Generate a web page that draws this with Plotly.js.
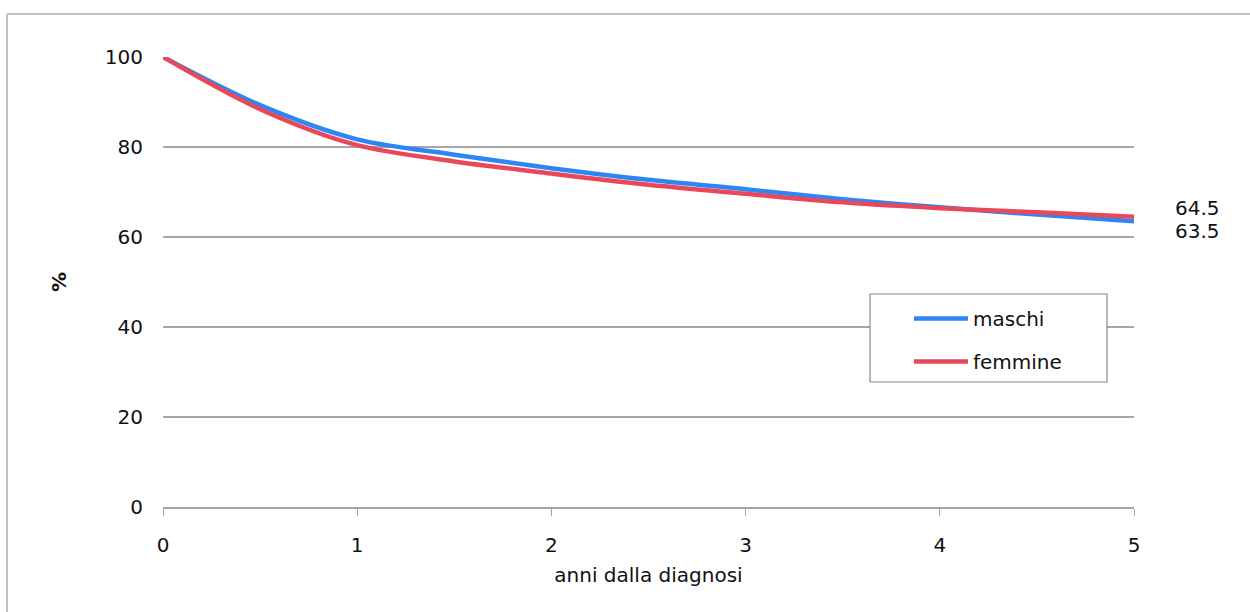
<!DOCTYPE html>
<html>
<head>
<meta charset="utf-8">
<script src="https://cdn.plot.ly/plotly-3.0.1.min.js"></script>
<style>html,body{margin:0;padding:0;background:#fff;}#chart{width:1250px;height:612px;}</style>
</head>
<body>
<div id="chart"></div>
<script>
var anni = [0, 0.5, 1, 1.5, 2, 2.5, 3, 3.5, 4, 4.5, 5];
var maschi = [100, 89.3, 81.7, 78.3, 75.3, 72.7, 70.6, 68.4, 66.6, 65.0, 63.5];
var femmine = [100, 88.4, 80.4, 76.8, 74.1, 71.6, 69.6, 67.7, 66.4, 65.5, 64.5];
var serieNomi = ['maschi', 'femmine'];
var xTitolo = 'anni dalla diagnosi';
var yTitolo = '%';

var W = 1250, H = 612, L = 163, R = 116, T = 57, B = 105;
var pw = W - L - R, ph = H - T - B;
function px(xp){ return (xp - L) / pw; }
function py(yp){ return (H - B - yp) / ph; }

var font = "'DejaVu Sans', Verdana, sans-serif";

var traces = [
  {x: anni, y: maschi, name: serieNomi[0], legendgroup: 'm', mode: 'lines', line: {color: '#2e86f5', width: 4.5, shape: 'spline', smoothing: 0.9}},
  {x: anni, y: femmine, name: serieNomi[1], legendgroup: 'f', mode: 'lines', line: {color: '#e8485a', width: 4.5, shape: 'spline', smoothing: 0.9}}
];

var lastM = maschi[maschi.length - 1], lastF = femmine[femmine.length - 1];

var layout = {
  width: W, height: H,
  margin: {l: L, r: R, t: T, b: B},
  paper_bgcolor: '#fff', plot_bgcolor: '#fff',
  font: {family: font, size: 20, color: '#111'},
  showlegend: true,
  legend: {
    x: px(909), y: py(299), xanchor: 'left', yanchor: 'top',
    bgcolor: 'rgba(0,0,0,0)', borderwidth: 0,
    font: {family: font, size: 20, color: '#111'},
    itemwidth: 54, tracegroupgap: 14
  },
  xaxis: {
    range: [0, 5], tickvals: [0,1,2,3,4,5], ticktext: ['0','1','2','3','4','5'],
    showgrid: false, zeroline: false,
    showline: true, linecolor: '#a6a6a6', linewidth: 1.5,
    ticks: 'outside', ticklen: 7, tickcolor: '#a6a6a6', tickwidth: 1,
    ticklabelstandoff: 12,
    tickfont: {family: font, size: 20, color: '#111'},
    title: {text: xTitolo, font: {family: font, size: 20, color: '#111'}, standoff: 12},
    fixedrange: true
  },
  yaxis: {
    range: [0, 100], tickvals: [0,20,40,60,80,100],
    showgrid: true, gridcolor: '#a6a6a6', gridwidth: 1.2,
    zeroline: false, showline: false,
    ticks: '', ticklabelstandoff: 19,
    tickfont: {family: font, size: 20, color: '#111'},
    title: {text: '<b>' + yTitolo + '</b>', font: {family: font, size: 20, color: '#111'}, standoff: 32},
    fixedrange: true
  },
  annotations: [
    {x: 5, y: lastF, xref: 'x', yref: 'y', text: lastF.toFixed(1), showarrow: false, xshift: 63, yshift: 9, font: {family: font, size: 20, color: '#111'}},
    {x: 5, y: lastM, xref: 'x', yref: 'y', text: lastM.toFixed(1), showarrow: false, xshift: 63, yshift: -10, font: {family: font, size: 20, color: '#111'}}
  ],
  shapes: [
    {type: 'line', xref: 'paper', yref: 'paper', x0: px(7), x1: px(1250), y0: py(14), y1: py(14), line: {color: '#c0c0c0', width: 2}},
    {type: 'line', xref: 'paper', yref: 'paper', x0: px(7), x1: px(7), y0: py(14), y1: py(612), line: {color: '#c0c0c0', width: 2}},
    {type: 'rect', xref: 'paper', yref: 'paper', layer: 'above', x0: px(870), x1: px(1107), y0: py(382), y1: py(294), fillcolor: '#fff', line: {color: '#8a8a8a', width: 1.2}}
  ]
};

Plotly.newPlot('chart', traces, layout, {displayModeBar: false, staticPlot: true});
</script>
</body>
</html>
